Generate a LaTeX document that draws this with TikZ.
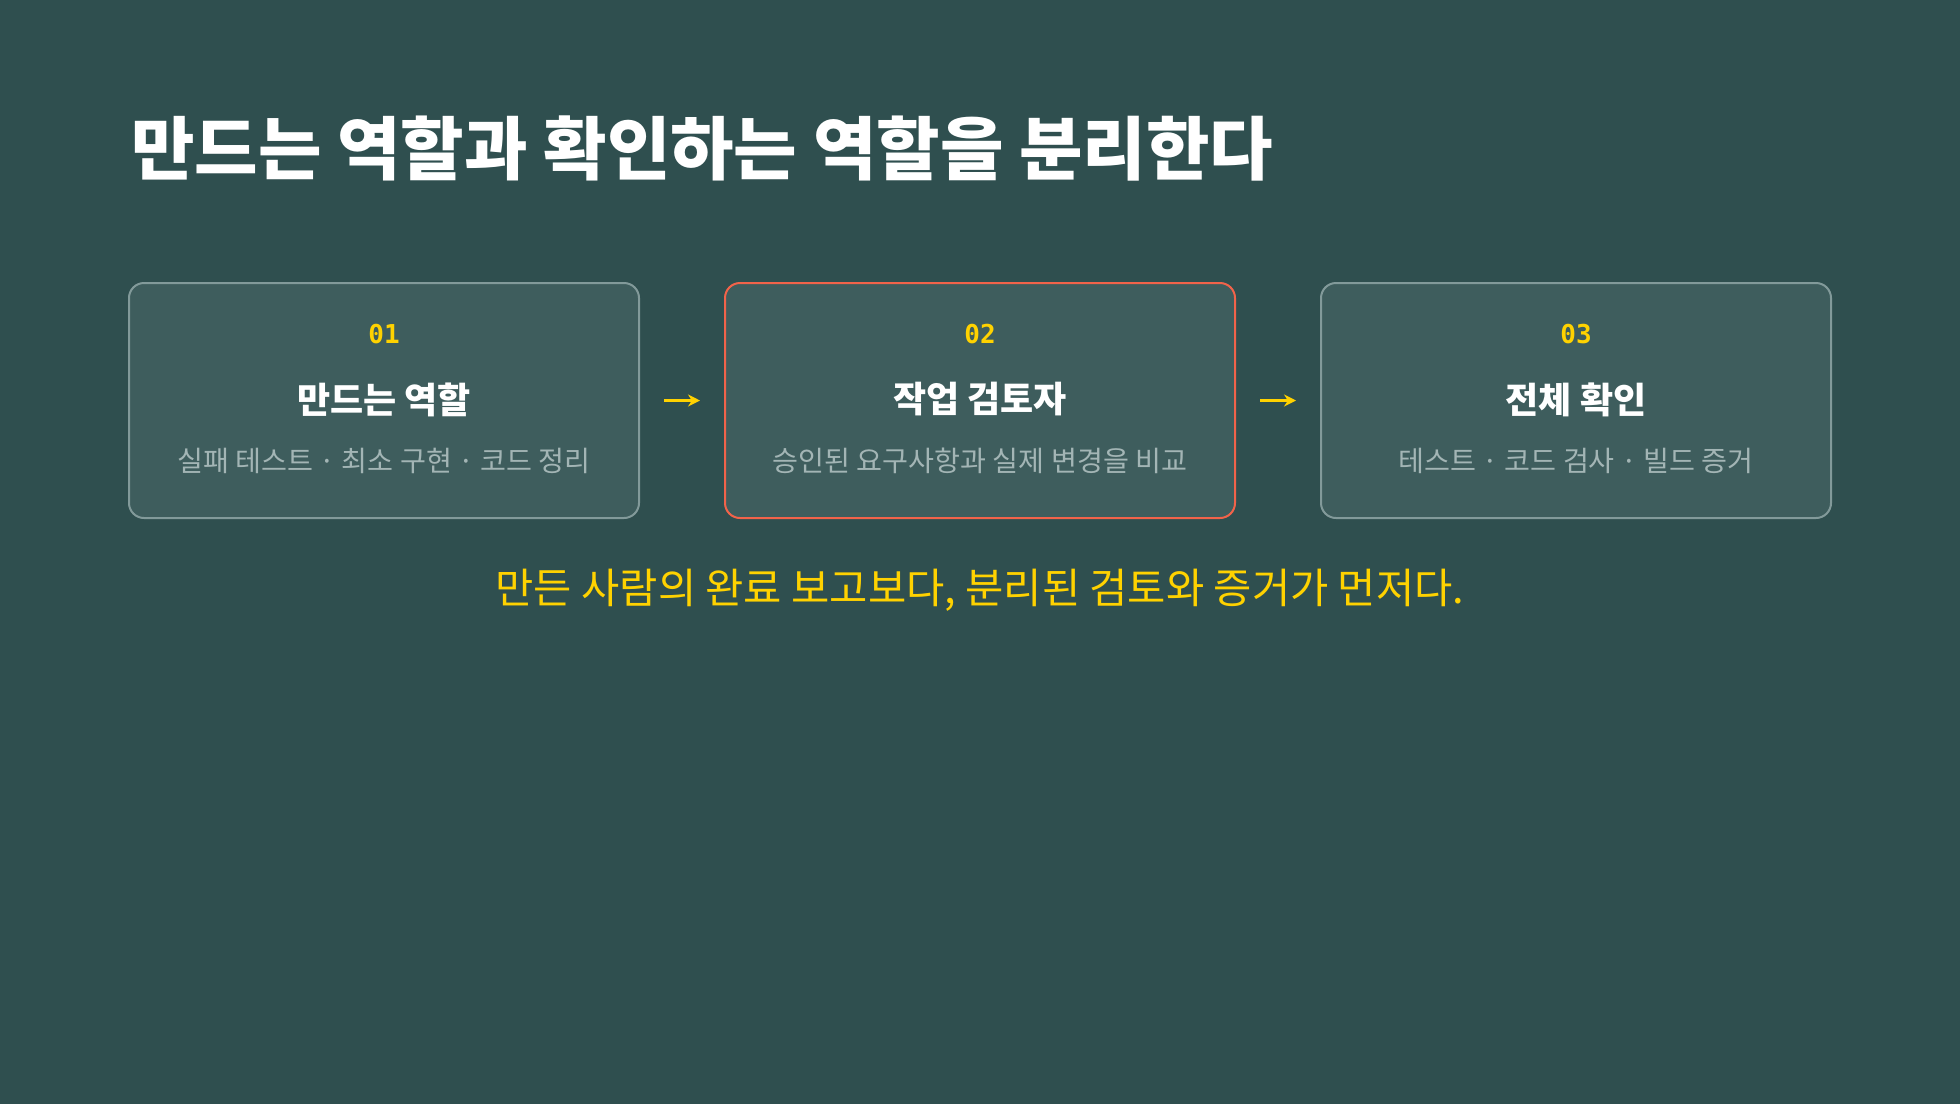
\documentclass[tikz,border=0pt]{standalone}
\usepackage{fontspec}
\setmainfont{Noto Sans CJK KR}
\newfontfamily\monofont{DejaVu Sans Mono}
\usetikzlibrary{arrows.meta,positioning}
\definecolor{bgslate}{HTML}{2F4F4F}
\definecolor{cardfill}{HTML}{3E5D5D}
\definecolor{cardline}{HTML}{829A9A}
\definecolor{hotline}{HTML}{F2634A}
\definecolor{gold}{HTML}{FFD200}
\definecolor{subgray}{HTML}{A3B5B5}
\tikzset{
  x=0.5pt, y=-0.5pt,
  card/.style={draw=cardline, fill=cardfill, line width=1pt, rounded corners=7.5pt,
    minimum width=255pt, minimum height=117.5pt, inner sep=0pt},
  hotcard/.style={card, draw=hotline},
  num/.style={text=gold, font=\monofont\bfseries\fontsize{13}{15}\selectfont},
  cardtitle/.style={text=white, font=\bfseries\fontsize{18}{22}\selectfont},
  cardsub/.style={text=subgray, font=\fontsize{14.1}{18}\selectfont},
  flow/.style={draw=gold, line width=1.5pt, -{Stealth[length=6pt,width=6pt]},
    shorten <=12pt, shorten >=12pt}
}

\begin{document}
\begin{tikzpicture}
  \fill[bgslate] (0,0) rectangle (1960,1104);
  \useasboundingbox (0,0) rectangle (1960,1104);

  \node[anchor=west, text=white, font=\bfseries\fontsize{34.5}{40}\selectfont] (heading) at (124,148)
    {만드는 역할과 확인하는 역할을 분리한다};

  \node[card] (maker) at (384,400.5) {};
  \node[hotcard, right=42pt of maker] (review) {};
  \node[card, right=42pt of review] (check) {};

  \node[num] (makernum) at ([yshift=-26pt]maker.north) {01};
  \node[cardtitle] (makertitle) at ([yshift=0.5pt]maker.center) {만드는 역할};
  \node[cardsub] (makersub) at ([yshift=-30.25pt]maker.center) {실패 테스트 · 최소 구현 · 코드 정리};

  \node[num] (reviewnum) at ([yshift=-26pt]review.north) {02};
  \node[cardtitle] (reviewtitle) at ([yshift=0.5pt]review.center) {작업 검토자};
  \node[cardsub] (reviewsub) at ([yshift=-30.25pt]review.center) {승인된 요구사항과 실제 변경을 비교};

  \node[num] (checknum) at ([yshift=-26pt]check.north) {03};
  \node[cardtitle] (checktitle) at ([yshift=0.5pt]check.center) {전체 확인};
  \node[cardsub] (checksub) at ([yshift=-30.25pt]check.center) {테스트 · 코드 검사 · 빌드 증거};

  \draw[flow] (maker.east) -- (review.west);
  \draw[flow] (review.east) -- (check.west);

  \node[text=gold, font=\fontsize{20.8}{25}\selectfont] (note) at (980,590)
    {만든 사람의 완료 보고보다, 분리된 검토와 증거가 먼저다.};
\end{tikzpicture}
\end{document}
